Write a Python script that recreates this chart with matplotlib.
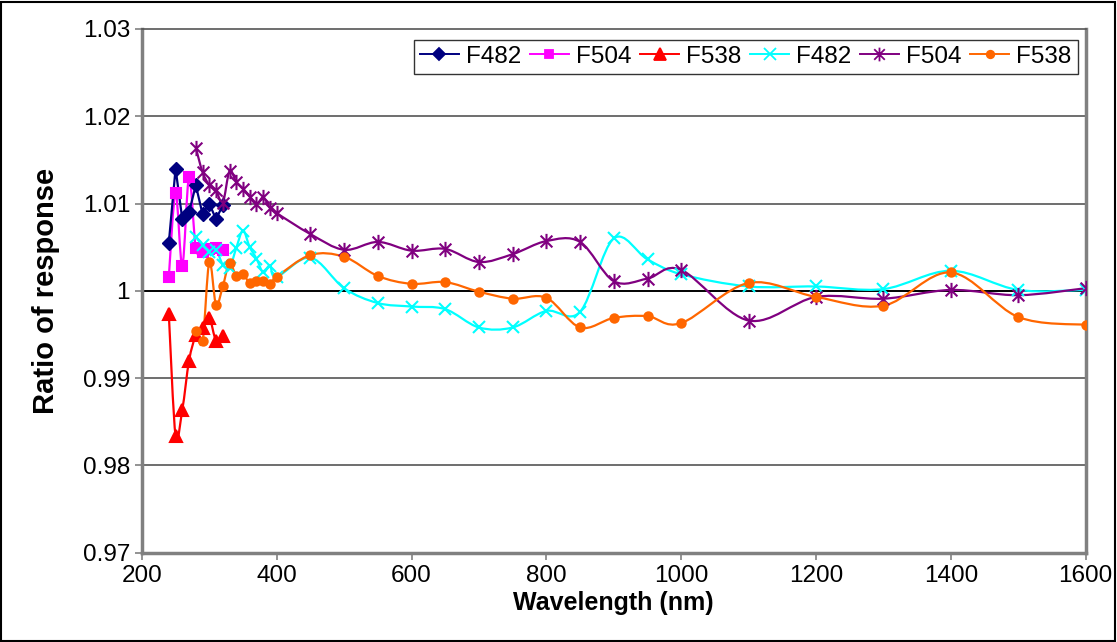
import numpy as np
import matplotlib
matplotlib.use("Agg")
import matplotlib.pyplot as plt
from matplotlib.path import Path
from matplotlib.patches import PathPatch, Rectangle
from matplotlib.lines import Line2D

plt.rcParams['font.family'] = ['Liberation Sans', 'DejaVu Sans']

# short-wavelength runs (10 nm steps)
wl_short = [240, 250, 260, 270, 280, 290, 300, 310, 320]
f482_a = [1.0055, 1.0140, 1.0082, 1.0090, 1.0121, 1.0088, 1.0100, 1.0082, 1.0098]
f504_a = [1.0016, 1.0112, 1.0029, 1.0130, 1.0049, 1.0045, 1.0048, 1.0049, 1.0047]
f538_a = [0.9973, 0.9834, 0.9864, 0.9920, 0.9949, 0.9957, 0.9969, 0.9943, 0.9948]

# long-wavelength runs
wl_long = [280, 290, 300, 310, 320, 330, 340, 350, 360, 370, 380, 390, 400,
           450, 500, 550, 600, 650, 700, 750, 800, 850, 900, 950, 1000,
           1100, 1200, 1300, 1400, 1500, 1600]
f482_b = [1.0062, 1.0053, 1.0044, 1.0047, 1.0030, 1.0026, 1.0049, 1.0069, 1.0050,
          1.0037, 1.0021, 1.0029, 1.0016, 1.0038, 1.0003, 0.9986, 0.9982, 0.9979,
          0.9958, 0.9958, 0.9977, 0.9976, 1.0060, 1.0036, 1.0019, 1.0005, 1.0005,
          1.0002, 1.0023, 1.0001, 1.0001]
f504_b = [1.0164, 1.0136, 1.0121, 1.0115, 1.0101, 1.0137, 1.0125, 1.0117, 1.0108,
          1.0099, 1.0107, 1.0095, 1.0089, 1.0065, 1.0047, 1.0056, 1.0046, 1.0048,
          1.0033, 1.0042, 1.0057, 1.0056, 1.0011, 1.0014, 1.0024, 0.9966, 0.9993,
          0.9991, 1.0001, 0.9995, 1.0003]
f538_b = [0.9954, 0.9942, 1.0033, 0.9984, 1.0005, 1.0032, 1.0017, 1.0019, 1.0009,
          1.0011, 1.0011, 1.0008, 1.0016, 1.0041, 1.0039, 1.0017, 1.0008, 1.0010,
          0.9999, 0.9991, 0.9992, 0.9958, 0.9969, 0.9971, 0.9963, 1.0009, 0.9993,
          0.9983, 1.0021, 0.9970, 0.9961]

# asterisk marker: an x with a vertical bar through it
star = Path([(-1, -1), (1, 1), (-1, 1), (1, -1), (0, -1.3), (0, 1.3)],
            [Path.MOVETO, Path.LINETO, Path.MOVETO, Path.LINETO, Path.MOVETO, Path.LINETO])


def smooth_path(x, y):
    # Catmull-Rom segments as cubic beziers (like a spreadsheet "smoothed line")
    pts = np.column_stack([x, y]).astype(float)
    p = np.vstack([pts[0], pts, pts[-1]])
    verts = [tuple(pts[0])]
    codes = [Path.MOVETO]
    for i in range(1, len(p) - 2):
        c1 = p[i] + (p[i + 1] - p[i - 1]) / 6.0
        c2 = p[i + 1] - (p[i + 2] - p[i]) / 6.0
        verts += [tuple(c1), tuple(c2), tuple(p[i + 1])]
        codes += [Path.CURVE4] * 3
    return Path(verts, codes)


fig = plt.figure(figsize=(11.17, 6.42), dpi=100)
ax = fig.add_axes([0.127, 0.139, 0.845, 0.816])

series = [
    (wl_short, f482_a, 'F482', '#000080', 'D', 7, False),
    (wl_short, f504_a, 'F504', '#FF00FF', 's', 7, True),
    (wl_short, f538_a, 'F538', '#FF0000', '^', 9, True),
    (wl_long, f482_b, 'F482', '#00FFFF', 'x', 9, True),
    (wl_long, f504_b, 'F504', '#800080', star, 11, True),
    (wl_long, f538_b, 'F538', '#FF6600', 'o', 6, True),
]

handles = []
for x, y, name, col, mk, ms, smooth in series:
    if smooth:
        ax.add_patch(PathPatch(smooth_path(x, y), facecolor='none', edgecolor=col,
                               lw=1.6, zorder=3))
        ax.plot(x, y, ls='none', marker=mk, ms=ms, color=col, mec=col, mew=1.5, zorder=4)
    else:
        ax.plot(x, y, ls='-', lw=1.6, marker=mk, ms=ms, color=col, mec=col, zorder=4)
    handles.append(Line2D([], [], color=col, lw=1.4, marker=mk,
                          ms=ms * 0.9, mew=1.3, label=name))

ax.set_xlim(200, 1600)
ax.set_ylim(0.97, 1.03)
ax.set_xticks(np.arange(200, 1601, 200))
ax.set_yticks(np.arange(0.97, 1.0301, 0.01))
ax.set_yticklabels(['0.97', '0.98', '0.99', '1', '1.01', '1.02', '1.03'])
ax.tick_params(labelsize=17.5, direction='out', length=5, width=1.2, color='#808080')

for y in [0.98, 0.99, 1.01, 1.02]:
    ax.axhline(y, color='#555555', lw=1.2, zorder=1)
ax.axhline(1.0, color='black', lw=1.4, zorder=1)

for side in ['left', 'bottom', 'right']:
    ax.spines[side].set_color('#808080')
    ax.spines[side].set_linewidth(2.5)
ax.spines['top'].set_color('#555555')
ax.spines['top'].set_linewidth(1.2)

ax.set_xlabel('Wavelength (nm)', fontsize=18, fontweight='bold', labelpad=3)
ax.set_ylabel('Ratio of response', fontsize=21, fontweight='bold', labelpad=16)

leg = ax.legend(handles=handles, ncol=6, loc='upper right',
                bbox_to_anchor=(0.9915, 0.979), borderaxespad=0, fontsize=17.5,
                frameon=True, fancybox=False, edgecolor='black', handlelength=1.6,
                handletextpad=0.3, columnspacing=0.35, borderpad=0.25)
leg.get_frame().set_linewidth(1.0)

# border around the whole chart area
fig.patches.append(Rectangle((0.001, 0.002), 0.997, 0.995, transform=fig.transFigure,
                             fill=False, edgecolor='black', lw=1.5))

fig.savefig('out.png', dpi=100)
